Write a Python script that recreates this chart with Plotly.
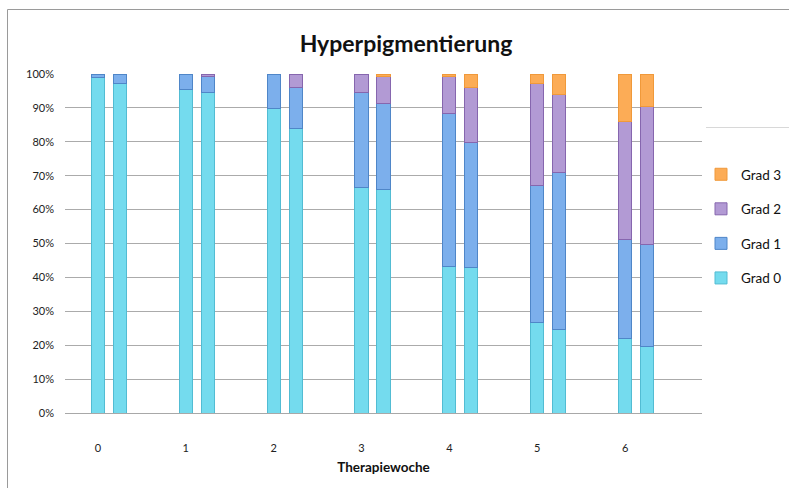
import plotly.graph_objects as go

# Therapy weeks, two bars (groups) per week
weeks = [0, 1, 2, 3, 4, 5, 6]

# Share of patients per grade, in percent; first bar of each week (A) and second bar (B)
grad0_a = [99.0, 95.5, 89.7, 66.5, 43.2, 26.6, 22.1]
grad1_a = [1.0, 4.5, 10.3, 28.0, 45.2, 40.6, 29.2]
grad2_a = [0.0, 0.0, 0.0, 5.5, 11.0, 30.1, 34.7]
grad3_a = [0.0, 0.0, 0.0, 0.0, 0.6, 2.7, 14.0]

grad0_b = [97.3, 94.6, 84.0, 66.0, 42.8, 24.7, 19.6]
grad1_b = [2.7, 4.6, 12.0, 25.4, 37.1, 46.4, 30.2]
grad2_b = [0.0, 0.8, 4.0, 7.9, 16.2, 23.0, 40.5]
grad3_b = [0.0, 0.0, 0.0, 0.7, 3.9, 5.9, 9.7]

y_ticks = [0, 10, 20, 30, 40, 50, 60, 70, 80, 90, 100]

series = [
    ("Grad 0", grad0_a, grad0_b, "#74dbee", "#52bcd3"),
    ("Grad 1", grad1_a, grad1_b, "#7cafec", "#4f86c8"),
    ("Grad 2", grad2_a, grad2_b, "#b29ad4", "#8666ae"),
    ("Grad 3", grad3_a, grad3_b, "#fcac56", "#f0993a"),
]

# slot layout: per week -> gap, bar A, bar B, gap
pos_a = [4 * w + 1 for w in weeks]
pos_b = [4 * w + 2 for w in weeks]

fig = go.Figure()
for i, (name, va, vb, fill, edge) in enumerate(series):
    # empty segments are skipped so that no outline is drawn for them
    vals = [v if v > 0 else None for v in va + vb]
    fig.add_trace(go.Bar(
        x=pos_a + pos_b,
        y=vals,
        name=name,
        legendgroup=name,
        legendrank=len(series) - i,
        width=0.6,
        marker=dict(color=fill, line=dict(color=edge, width=1)),
        hovertemplate=name + ": %{y:.1f}%<extra></extra>",
    ))

L, R, T, B = 65, 87, 74, 75
W, H = 789, 488
pw, ph = W - L - R, H - T - B

def px_x(px):
    return (px - L) / pw

def px_y(py):
    return (H - B - py) / ph

fig.update_layout(
    width=W, height=H,
    margin=dict(l=L, r=R, t=T, b=B, autoexpand=False),
    paper_bgcolor="white",
    plot_bgcolor="white",
    barmode="stack",
    font=dict(family="Lato, Open Sans, sans-serif", color="#222222", size=11),
    title=dict(
        text="<b>Hyperpigmentierung</b>",
        x=(406) / W, xanchor="center",
        y=1 - 44 / H, yanchor="middle",
        font=dict(size=23, color="#111111"),
    ),
    legend=dict(
        x=px_x(701), y=px_y(159), xanchor="left", yanchor="top",
        traceorder="grouped",
        tracegroupgap=14,
        font=dict(size=13.5, color="#111111"),
        itemwidth=30,
        bgcolor="rgba(0,0,0,0)",
    ),
    xaxis=dict(
        range=[-0.5, 28.5],
        tickvals=pos_a,
        ticktext=[str(w) for w in weeks],
        showgrid=False,
        zeroline=False,
        showline=True, linecolor="#a8a8a8", linewidth=1,
        ticks="",
        ticklabelstandoff=25,
        tickfont=dict(size=11, color="#222222"),
        title=dict(text="<b>Therapiewoche</b>", font=dict(size=13.5, color="#111111"), standoff=9),
        fixedrange=True,
    ),
    yaxis=dict(
        range=[0, 100.01],
        tickvals=y_ticks,
        ticktext=[f"{t}%" for t in y_ticks],
        showgrid=True, gridcolor="#ababab", gridwidth=1,
        zeroline=False,
        showline=False,
        ticks="",
        ticklabelstandoff=10,
        tickfont=dict(size=11, color="#222222"),
        fixedrange=True,
    ),
    shapes=[
        # outer chart frame (top and left edges)
        dict(type="line", xref="paper", yref="paper",
             x0=px_x(7.5), y0=px_y(9.5), x1=px_x(W + 2), y1=px_y(9.5),
             line=dict(color="#9a9a9a", width=1)),
        dict(type="line", xref="paper", yref="paper",
             x0=px_x(7.5), y0=px_y(9.5), x1=px_x(7.5), y1=px_y(H + 2),
             line=dict(color="#9a9a9a", width=1)),
        # legend box top edge
        dict(type="line", xref="paper", yref="paper",
             x0=px_x(706), y0=px_y(127.5), x1=px_x(W + 2), y1=px_y(127.5),
             line=dict(color="#d8d8d8", width=1)),
    ],
)

fig.write_html("out.html")
